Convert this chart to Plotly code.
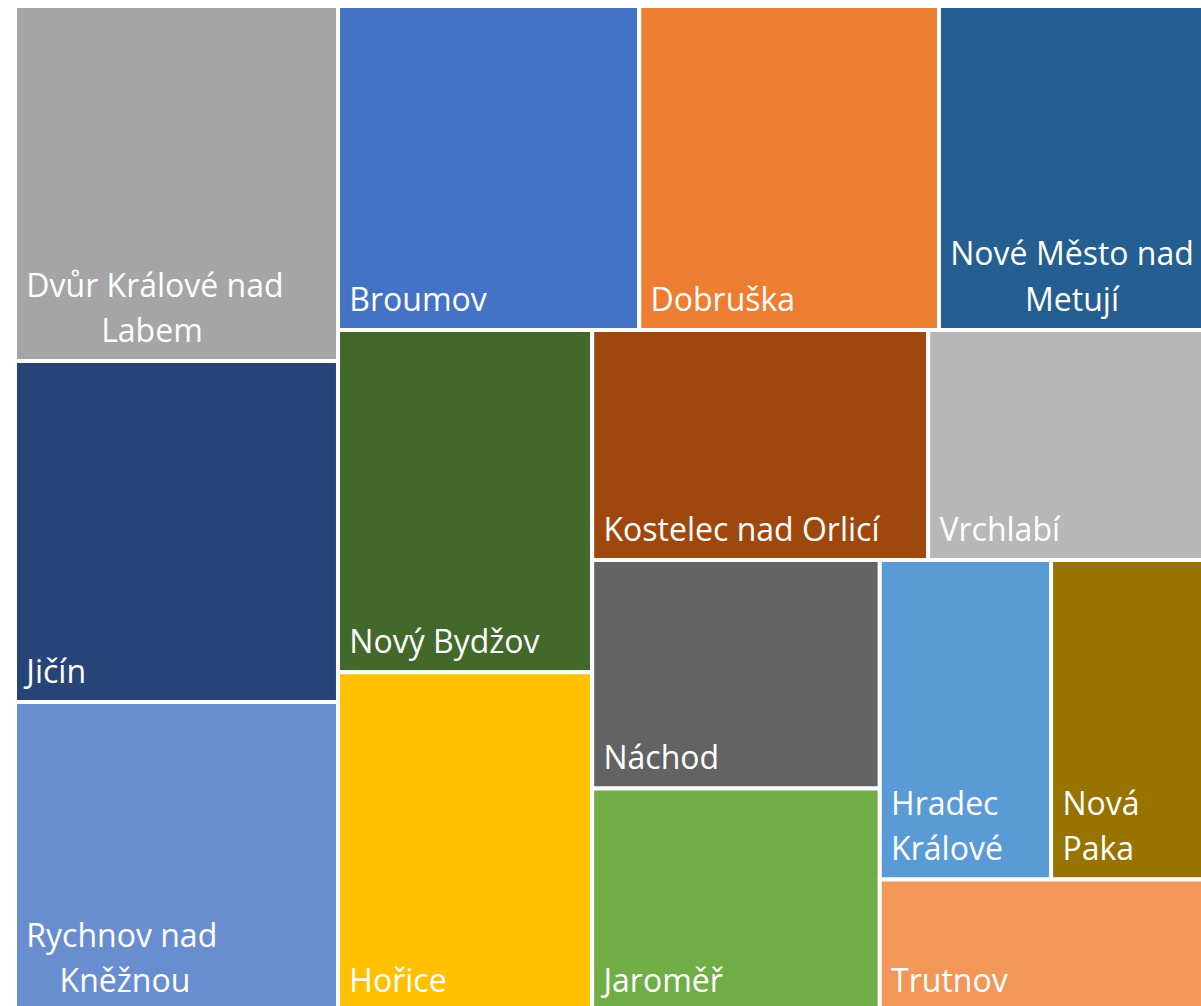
import plotly.graph_objects as go

# Towns (ORP) of the Hradec Králové region, ordered by value
towns = [
    "Dvůr Králové nad Labem", "Jičín", "Rychnov nad Kněžnou",
    "Broumov", "Dobruška", "Nové Město nad Metují",
    "Nový Bydžov", "Hořice", "Kostelec nad Orlicí", "Vrchlabí",
    "Náchod", "Jaroměř", "Hradec Králové", "Nová Paka", "Trutnov",
]
values = [1147, 1101, 998, 976, 971, 904, 870, 861, 773, 667, 657, 640, 547, 533, 445]

# Tile captions: wrapped where the tile is narrow; the second line is
# centred under the first with non-breaking spaces. A wide blank at the
# end of the last line lifts the caption off the tile's bottom edge.
NB = "\u00a0"
GLYPH = '<span style="font-size:32px">{}</span>'
LIFT = '<span style="font-size:56px">' + NB + "</span>"


def caption(first, second=None, shift=0):
    lines = [NB + first]
    if second is not None:
        lines.append(NB + NB * shift + second)
    body = "<br>".join(GLYPH.format(t) for t in lines)
    return body + LIFT


captions = [
    caption("Dvůr Králové nad", "Labem", 9),
    caption("Jičín"),
    caption("Rychnov nad", "Kněžnou", 4),
    caption("Broumov"),
    caption("Dobruška"),
    caption("Nové Město nad", "Metují", 9),
    caption("Nový Bydžov"),
    caption("Hořice"),
    caption("Kostelec nad Orlicí"),
    caption("Vrchlabí"),
    caption("Náchod"),
    caption("Jaroměř"),
    caption("Hradec", "Králové", 0),
    caption("Nová", "Paka", 0),
    caption("Trutnov"),
]

# Office palette, assigned to the towns in alphabetical order
colors = [
    "#A5A5A5", "#264478", "#698ED0",
    "#4472C4", "#ED7D31", "#255E91",
    "#43682B", "#FFC000", "#9E480E", "#B7B7B7",
    "#636363", "#70AD47", "#5B9BD5", "#997300", "#F1975A",
]

fig = go.Figure(
    go.Treemap(
        labels=towns,
        parents=[""] * len(towns),
        values=values,
        text=captions,
        texttemplate="%{text}",
        textposition="bottom left",
        textfont=dict(family="Open Sans", size=35, color="white"),
        marker=dict(
            colors=colors,
            line=dict(color="white", width=4),
            pad=dict(t=0, l=0, r=0, b=0),
        ),
        tiling=dict(packing="squarify", squarifyratio=1, pad=0),
        pathbar=dict(visible=False),
        sort=True,
        hoverinfo="label+value",
    )
)

fig.update_layout(
    width=1220,
    height=1011,
    margin=dict(l=15, r=2, t=6, b=0),
    paper_bgcolor="white",
    showlegend=False,
)

fig.write_html(
    "out.html",
    post_script="document.documentElement.style.overflow='hidden';document.body.style.overflow='hidden';",
)
